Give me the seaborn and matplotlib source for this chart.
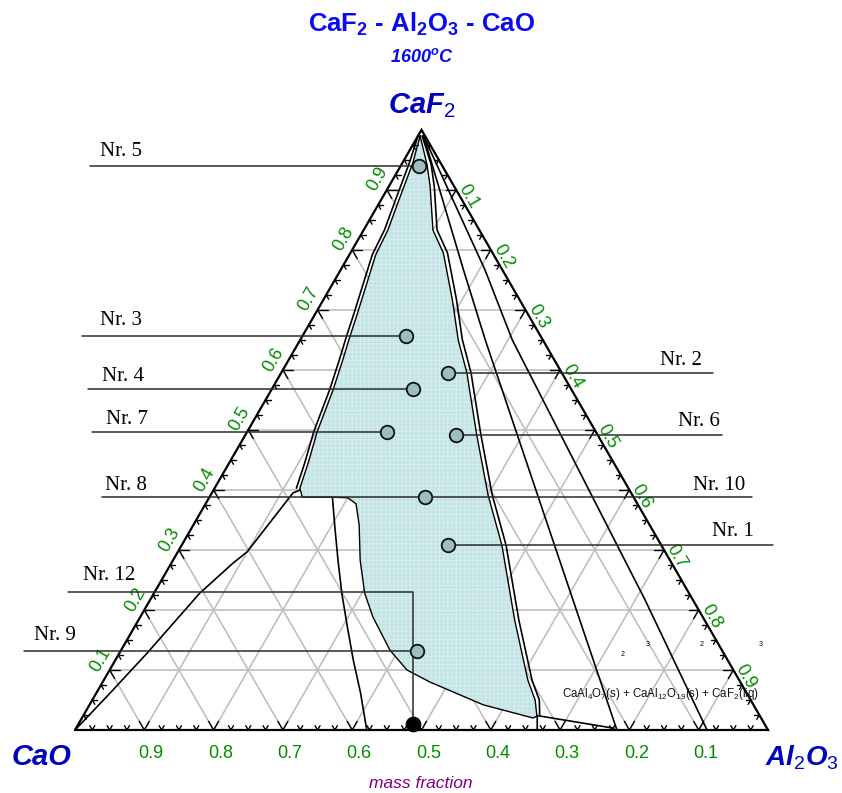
import numpy as np
import pandas as pd
import matplotlib
matplotlib.use('Agg')
import matplotlib.pyplot as plt
import seaborn as sns

sns.set_theme(style='white')
plt.rcParams['font.family'] = ['Liberation Sans', 'DejaVu Sans']
plt.rcParams['mathtext.fontset'] = 'custom'
plt.rcParams['mathtext.rm'] = 'Liberation Sans'
plt.rcParams['mathtext.it'] = 'Liberation Sans:italic:bold'
plt.rcParams['mathtext.bf'] = 'Liberation Sans:bold'
plt.rcParams['hatch.linewidth'] = 0.6

# ---------------- data (mass fractions: CaF2, Al2O3; CaO = rest) ----------------
sample_names = ['Nr. 5', 'Nr. 3', 'Nr. 4', 'Nr. 7', 'Nr. 8', 'Nr. 10', 'Nr. 2', 'Nr. 6', 'Nr. 1', 'Nr. 9']
sample_caf2 = [0.940, 0.657, 0.568, 0.497, 0.388, 0.388, 0.595, 0.492, 0.308, 0.132]
sample_al2o3 = [0.026, 0.149, 0.204, 0.202, 0.311, 0.311, 0.241, 0.304, 0.384, 0.428]
special_name = 'Nr. 12'
special_caf2 = [0.010]
special_al2o3 = [0.483]

# liquid region boundary (closed)
liq_caf2 = [0.99, 0.945, 0.888, 0.833, 0.792, 0.692, 0.655, 0.617, 0.567, 0.497, 0.445, 0.403,
            0.388, 0.388, 0.387, 0.377, 0.342, 0.283, 0.228, 0.188, 0.133, 0.100, 0.080, 0.042,
            0.020, 0.023, 0.050, 0.083, 0.183, 0.308, 0.392, 0.493, 0.595, 0.650, 0.717, 0.795,
            0.833, 0.905, 0.942]
liq_al2o3 = [0.003, 0.015, 0.025, 0.035, 0.038, 0.061, 0.069, 0.078, 0.089, 0.101, 0.114, 0.123,
             0.134, 0.174, 0.200, 0.217, 0.239, 0.270, 0.304, 0.336, 0.388, 0.429, 0.472, 0.568,
             0.651, 0.655, 0.639, 0.612, 0.543, 0.462, 0.400, 0.333, 0.268, 0.228, 0.186, 0.134,
             0.100, 0.060, 0.037]
# outer companion lines of the liquid boundary
rout_caf2 = [0.025, 0.050, 0.083, 0.183, 0.308, 0.392, 0.493, 0.595, 0.650, 0.717, 0.795, 0.833, 0.905, 0.942, 0.99]
rout_al2o3 = [0.658, 0.645, 0.618, 0.549, 0.468, 0.406, 0.339, 0.274, 0.234, 0.192, 0.140, 0.106, 0.066, 0.043, 0.006]
lout_caf2 = [0.99, 0.945, 0.888, 0.833, 0.792, 0.692, 0.655, 0.617, 0.567, 0.497, 0.445, 0.403]
lout_al2o3 = [0.000, 0.010, 0.020, 0.030, 0.033, 0.056, 0.064, 0.073, 0.084, 0.096, 0.109, 0.118]
# other phase boundaries
cao_curve_caf2 = [0.400, 0.395, 0.297, 0.278, 0.228, 0.128, 0.062, 0.0]
cao_curve_al2o3 = [0.125, 0.117, 0.100, 0.089, 0.066, 0.040, 0.020, 0.0]
notch_curve_caf2 = [0.387, 0.338, 0.283, 0.228, 0.172, 0.117, 0.062, 0.0]
notch_curve_al2o3 = [0.178, 0.206, 0.238, 0.271, 0.307, 0.343, 0.381, 0.421]
lineA_caf2 = [0.99, 0.767, 0.650, 0.217, 0.0]
lineA_al2o3 = [0.008, 0.177, 0.267, 0.610, 0.782]
lineB_caf2 = [0.99, 0.767, 0.650, 0.217, 0.0]
lineB_al2o3 = [0.008, 0.208, 0.306, 0.714, 0.912]
foot_caf2 = [0.0, 0.024, 0.003]
foot_al2o3 = [0.667, 0.655, 0.776]

tick_values = [0.1, 0.2, 0.3, 0.4, 0.5, 0.6, 0.7, 0.8, 0.9]
tick_labels = ['0.1', '0.2', '0.3', '0.4', '0.5', '0.6', '0.7', '0.8', '0.9']

# ---------------- layout (pixels of the 842x793 canvas) ----------------
PX0, PY0, S = 75.0, 730.0, 693.0
label_layout = {  # name: (text centre px, text centre py, leader outer px)
    'Nr. 5': (121, 152, 90), 'Nr. 3': (121, 321, 82), 'Nr. 4': (123, 377, 88),
    'Nr. 7': (127, 420, 92), 'Nr. 8': (126, 486, 102), 'Nr. 10': (719, 486, 752),
    'Nr. 2': (681, 361, 713), 'Nr. 6': (699, 422, 722), 'Nr. 1': (733, 532, 773),
    'Nr. 9': (55, 635, 24),
}
nr12_layout = (109, 575, 68, 592)


def tern(caf2, al2o3):
    caf2 = np.asarray(caf2, float)
    al2o3 = np.asarray(al2o3, float)
    return al2o3 + caf2 / 2.0, caf2 * np.sqrt(3) / 2.0


def P(px, py):
    return (px - PX0) / S, (PY0 - py) / S


def PX(n):
    return n / S


fig = plt.figure(figsize=(8.42, 7.93), dpi=100)
ax = fig.add_axes([0, 0, 1, 1])
ax.set_xlim(-PX0 / S, (842 - PX0) / S)
ax.set_ylim((PY0 - 793) / S, PY0 / S)
ax.axis('off')

grid_c = '#BDBDBD'
# grid lines
for v in tick_values:
    for (c1, a1, c2, a2) in [(v, 0, v, 1 - v), (0, v, 1 - v, v), (0, 1 - v, 1 - v, 0)]:
        x, y = tern([c1, c2], [a1, a2])
        ax.plot(x, y, color=grid_c, lw=1.15, zorder=1)

# liquid region
lx, ly = tern(liq_caf2, liq_al2o3)
ax.fill(lx, ly, facecolor='#C4E3E5', edgecolor='none', zorder=2)
ax.fill(lx, ly, facecolor='none', edgecolor='#D6EDEE', hatch='++++', lw=0, zorder=2.1)
ax.plot(np.r_[lx, lx[0]], np.r_[ly, ly[0]], color='black', lw=1.0, zorder=3)
for cc, aa in [(rout_caf2, rout_al2o3), (lout_caf2, lout_al2o3), (cao_curve_caf2, cao_curve_al2o3),
               (notch_curve_caf2, notch_curve_al2o3), (lineA_caf2, lineA_al2o3),
               (lineB_caf2, lineB_al2o3), (foot_caf2, foot_al2o3)]:
    x, y = tern(cc, aa)
    ax.plot(x, y, color='black', lw=1.2, zorder=3)

# triangle
x, y = tern([0, 0, 1, 0], [0, 1, 0, 0])
ax.plot(x, y, color='black', lw=1.6, zorder=4, solid_joinstyle='miter')

# ticks
h = np.sqrt(3) / 2
dirs = {
    'bottom': [(-0.5, h), (0.5, h)],
    'left': [(1.0, 0.0), (0.5, -h)],
    'right': [(-1.0, 0.0), (-0.5, -h)],
}
for k in range(1, 40):
    t = k * 0.025
    major = (k % 4 == 0)
    L = PX(10 if major else 5)
    pts = {
        'bottom': tern([0], [1 - t]),
        'left': tern([t], [0]),
        'right': tern([1 - t], [t]),
    }
    for side, (px_, py_) in pts.items():
        for dx, dy in dirs[side]:
            ax.plot([px_[0], px_[0] + dx * L], [py_[0], py_[0] + dy * L], color='black', lw=1.0, zorder=4)

# tick labels
green = '#008C00'
for v, lab in zip(tick_values, tick_labels):
    bx, by = tern([0], [1 - v])  # CaO = v on bottom axis
    ax.text(bx[0] + PX(7), by[0] - PX(24), lab, color=green, fontsize=13, ha='center', va='center')
    lx_, ly_ = tern([v], [0])
    ax.text(lx_[0] - PX(9), ly_[0] + PX(10.5), lab, color=green, fontsize=13, ha='center', va='center', rotation=60)
    rx_, ry_ = tern([1 - v], [v])
    ax.text(rx_[0] + PX(12.5), ry_[0] - PX(6.5), lab, color=green, fontsize=13, ha='center', va='center', rotation=-60)

# samples
df = pd.DataFrame({'name': sample_names, 'caf2': sample_caf2, 'al2o3': sample_al2o3})
df['x'], df['y'] = tern(df['caf2'], df['al2o3'])
lead_c = '#2B2B2B'
for _, r in df.iterrows():
    tx, ty, ox = label_layout[r['name']]
    ox_d, _ = P(ox, 0)
    ax.plot([ox_d, r['x']], [r['y'], r['y']], color=lead_c, lw=1.1, zorder=5)
    cx, cy = P(tx, ty)
    ax.text(cx, cy, r['name'], family='Liberation Serif', fontsize=15, color='black', ha='center', va='center')
sns.scatterplot(data=df.drop_duplicates(['x', 'y']), x='x', y='y', ax=ax, s=95, color='#9DBEC0',
                edgecolor='#111111', linewidth=1.3, zorder=6, legend=False)

# Nr. 12
sx, sy = tern(special_caf2, special_al2o3)
tx, ty, ox, ly12 = nr12_layout
ox_d, ly_d = P(ox, ly12)
ax.plot([ox_d, sx[0], sx[0]], [ly_d, ly_d, sy[0]], color=lead_c, lw=1.1, zorder=5)
sns.scatterplot(x=sx, y=sy, ax=ax, s=110, color='black', edgecolor='black', zorder=7, legend=False)
cx, cy = P(tx, ty)
ax.text(cx, cy, special_name, family='Liberation Serif', fontsize=15, color='black', ha='center', va='center')

# titles and labels
blue = '#0A0AF0'
dblue = '#0000C0'
ax.text(*P(421, 24), r'CaF$_\mathbf{2}$ - Al$_\mathbf{2}$O$_\mathbf{3}$ - CaO', color=blue, fontsize=18.5,
        fontweight='bold', ha='center', va='center')
ax.text(*P(422, 57), r'1600$^\mathit{o}$C', color=blue, fontsize=13, fontweight='bold', fontstyle='italic',
        ha='center', va='center')
ax.text(*P(422, 106), r'CaF$_\mathit{2}$', color=dblue, fontsize=21, fontweight='bold', fontstyle='italic',
        ha='center', va='center')
ax.text(*P(42, 757), 'CaO', color=dblue, fontsize=21, fontweight='bold', fontstyle='italic',
        ha='center', va='center')
ax.text(*P(802, 758), r'Al$_\mathit{2}$O$_\mathit{3}$', color=dblue, fontsize=20, fontweight='bold',
        fontstyle='italic', ha='center', va='center')
ax.text(*P(421, 784), 'mass fraction', color='#800080', fontsize=12.5, fontstyle='italic',
        ha='center', va='center')
ax.text(*P(660, 694), r'CaAl$_\mathrm{4}$O$_\mathrm{7}$(s) + CaAl$_\mathrm{12}$O$_\mathrm{19}$(s) + CaF$_\mathrm{2}$(liq)',
        color='#111111', fontsize=8.3, ha='center', va='center')
for (px_, py_, s_) in [(623, 655, '2'), (648, 645, '3'), (702, 644, '2'), (761, 644, '3')]:
    ax.text(*P(px_, py_), s_, fontsize=5, color='black', ha='center', va='center')

fig.savefig('out.png', dpi=100)
